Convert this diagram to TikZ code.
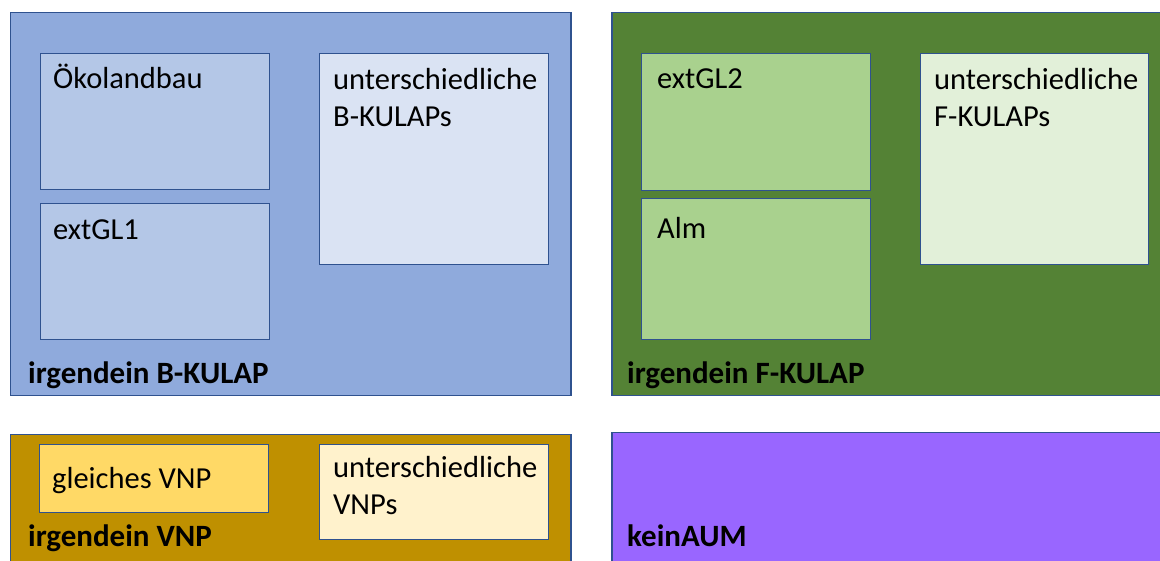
\documentclass[tikz,border=0pt]{standalone}
\usepackage{fontspec}
\setmainfont{Carlito}
\definecolor{bdr}{HTML}{2F528F}
\definecolor{bOuter}{HTML}{8FAADC}
\definecolor{bInner}{HTML}{B4C7E7}
\definecolor{bLight}{HTML}{DAE3F3}
\definecolor{gOuter}{HTML}{548235}
\definecolor{gInner}{HTML}{A9D18E}
\definecolor{gLight}{HTML}{E2F0D9}
\definecolor{yOuter}{HTML}{BF9000}
\definecolor{yInner}{HTML}{FFD966}
\definecolor{yLight}{HTML}{FFF2CC}
\definecolor{violet}{HTML}{9966FF}
\tikzset{
  panel/.style={draw=bdr, line width=1.2pt, fill=#1},
  txt/.style={inner sep=0pt, anchor=base west, align=left, font=\fontsize{30.5}{37}\selectfont},
  bold/.style={inner sep=0pt, anchor=base west, font=\fontsize{31}{37}\selectfont\bfseries}
}
\begin{document}
\begin{tikzpicture}[x=1pt,y=-1pt]
\useasboundingbox (0,0) rectangle (1160,560);
\clip (0,0) rectangle (1160,560);
% B-KULAP
\draw[panel=bOuter] (10.5,12.5) rectangle (571,395.5);
\node[panel=bInner, minimum width=229pt, minimum height=136pt, anchor=north west, inner sep=0pt] (oeko) at (40,53) {};
\node[panel=bInner, minimum width=229pt, minimum height=136pt, anchor=north west, inner sep=0pt] (ext1) at (40,203) {};
\node[panel=bLight, minimum width=229pt, minimum height=211pt, anchor=north west, inner sep=0pt] (ub) at (319,53) {};
\node[txt] (toeko) at (53,88) {Ökolandbau};
\node[txt] (text1) at (53,239) {extGL1};
\node[txt] (tub) at (333,126) {unterschiedliche\\B-KULAPs};
\node[bold] (lb) at (28,383) {irgendein B-KULAP};
% F-KULAP
\draw[panel=gOuter] (612,12.5) rectangle (1165,395.5);
\node[panel=gInner, minimum width=229pt, minimum height=137pt, anchor=north west, inner sep=0pt] (ext2) at (641,53) {};
\node[panel=gInner, minimum width=229pt, minimum height=141pt, anchor=north west, inner sep=0pt] (alm) at (641,198) {};
\node[panel=gLight, minimum width=228pt, minimum height=211pt, anchor=north west, inner sep=0pt] (uf) at (920,53) {};
\node[txt] (text2) at (657,88) {extGL2};
\node[txt] (talm) at (657,238) {Alm};
\node[txt] (tuf) at (934,126) {unterschiedliche\\F-KULAPs};
\node[bold] (lf) at (627,383) {irgendein F-KULAP};
% VNP
\draw[panel=yOuter] (10.5,434.5) rectangle (571,565);
\node[panel=yInner, minimum width=229pt, minimum height=68pt, anchor=north west, inner sep=0pt] (gl) at (39,444) {};
\node[panel=yLight, minimum width=229pt, minimum height=95pt, anchor=north west, inner sep=0pt] (uv) at (319,444) {};
\node[txt] (tgl) at (52,488) {gleiches VNP};
\node[txt] (tuv) at (333,514) {unterschiedliche\\VNPs};
\node[bold] (lv) at (28,546) {irgendein VNP};
% kein AUM
\draw[panel=violet] (612,432.5) rectangle (1165,565);
\node[bold] (lk) at (627,546) {keinAUM};
\end{tikzpicture}
\end{document}
